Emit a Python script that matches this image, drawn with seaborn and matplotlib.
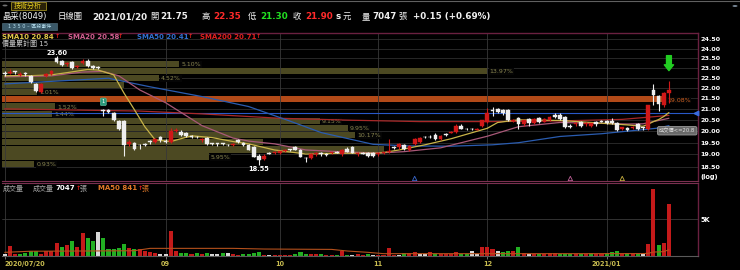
import numpy as np
import pandas as pd
import matplotlib
matplotlib.use("Agg")
import matplotlib.pyplot as plt
import seaborn as sns
from matplotlib.ticker import NullLocator
from matplotlib.patches import Rectangle, Circle
from matplotlib.lines import Line2D

# ---------------- data ----------------
opens = [22.70, 22.75, 22.80, 22.65, 22.70, 22.60, 22.20, 21.80, 22.60, 22.70,
         23.50, 23.35, 23.20, 23.30, 23.05, 23.25, 23.35, 23.10, 23.05, 20.95,
         20.95, 20.80, 20.45, 20.45, 19.45, 19.50, 19.40, 19.45, 19.55, 19.55,
         19.75, 19.55, 19.55, 20.00, 19.95, 19.90, 19.80, 19.75, 19.60, 19.70,
         19.45, 19.45, 19.45, 19.40, 19.40, 19.60, 19.50, 19.40, 19.30, 18.95,
         18.80, 19.05, 19.05, 19.05, 19.15, 19.20, 19.30, 19.20, 18.85, 18.85,
         19.00, 19.05, 19.00, 19.05, 19.10, 19.00, 19.25, 19.30, 19.00, 19.05,
         19.05, 19.05, 19.00, 19.05, 19.10, 19.30, 19.30, 19.40, 19.20, 19.45,
         19.55, 19.75, 19.75, 19.85, 19.65, 19.85, 19.90, 19.95, 20.25, 20.10,
         20.10, 20.05, 20.25, 20.40, 20.95, 21.00, 20.95, 20.95, 20.45, 20.60,
         20.30, 20.55, 20.35, 20.60, 20.40, 20.50, 20.75, 20.75, 20.65, 20.25,
         20.30, 20.40, 20.30, 20.25, 20.40, 20.45, 20.45, 20.45, 20.35, 20.10,
         20.15, 20.15, 20.30, 20.15, 20.10, 21.90, 21.60, 21.20, 21.75]
highs = [22.85, 22.95, 22.85, 22.80, 22.80, 22.65, 22.25, 22.25, 22.75, 22.90,
         23.60, 23.40, 23.30, 23.35, 23.15, 23.45, 23.45, 23.15, 23.10, 21.00,
         21.00, 20.85, 20.50, 20.50, 19.60, 19.55, 19.45, 19.50, 19.60, 19.70,
         19.80, 19.65, 20.15, 20.15, 20.05, 19.95, 19.85, 19.80, 19.70, 19.75,
         19.50, 19.50, 19.50, 19.45, 19.50, 19.65, 19.55, 19.45, 19.35, 19.00,
         19.00, 19.10, 19.15, 19.15, 19.25, 19.25, 19.35, 19.25, 18.90, 19.05,
         19.10, 19.10, 19.05, 19.10, 19.15, 19.25, 19.30, 19.35, 19.10, 19.10,
         19.10, 19.10, 19.10, 19.10, 19.65, 19.35, 19.50, 19.45, 19.40, 19.70,
         19.75, 19.80, 19.85, 19.90, 19.85, 19.90, 20.00, 20.30, 20.30, 20.15,
         20.15, 20.15, 20.50, 21.05, 21.10, 21.05, 21.00, 21.00, 20.55, 20.65,
         20.50, 20.60, 20.60, 20.65, 20.60, 20.70, 20.80, 20.80, 20.70, 20.30,
         20.40, 20.45, 20.40, 20.35, 20.45, 20.50, 20.50, 20.60, 20.40, 20.20,
         20.20, 20.25, 20.35, 20.20, 21.20, 22.20, 21.65, 21.80, 22.35]
lows = [22.60, 22.70, 22.70, 22.60, 22.60, 22.25, 21.80, 21.75, 22.55, 22.65,
        23.25, 23.10, 23.10, 22.95, 23.00, 23.20, 23.05, 22.95, 22.95, 20.70,
        20.80, 20.45, 20.05, 18.95, 19.35, 19.20, 19.25, 19.35, 19.45, 19.50,
        19.55, 19.50, 19.50, 19.95, 19.80, 19.75, 19.70, 19.70, 19.55, 19.40,
        19.40, 19.35, 19.40, 19.35, 19.35, 19.50, 19.35, 19.20, 18.90, 18.55,
        18.75, 19.00, 19.00, 19.00, 19.10, 19.15, 19.20, 18.90, 18.70, 18.80,
        18.95, 18.95, 18.95, 19.00, 19.05, 18.95, 19.10, 19.05, 18.95, 19.00,
        18.90, 18.90, 18.95, 19.00, 19.05, 19.25, 19.25, 19.20, 19.15, 19.40,
        19.50, 19.70, 19.70, 19.60, 19.60, 19.80, 19.90, 19.90, 20.10, 20.05,
        20.05, 20.05, 20.20, 20.35, 20.70, 20.80, 20.75, 20.45, 20.40, 20.10,
        20.25, 20.25, 20.30, 20.35, 20.40, 20.45, 20.60, 20.50, 20.15, 20.15,
        20.25, 20.20, 20.25, 20.20, 20.25, 20.40, 20.30, 20.30, 20.00, 20.05,
        20.00, 20.10, 20.05, 20.05, 20.05, 21.20, 20.90, 21.10, 21.30]
closes = [22.70, 22.80, 22.80, 22.70, 22.70, 22.30, 21.85, 22.20, 22.70, 22.85,
          23.30, 23.15, 23.25, 23.00, 23.10, 23.35, 23.10, 23.00, 23.00, 20.90,
          20.85, 20.50, 20.10, 19.40, 19.55, 19.25, 19.40, 19.40, 19.55, 19.65,
          19.60, 19.55, 20.00, 20.05, 19.85, 19.80, 19.75, 19.75, 19.65, 19.45,
          19.45, 19.45, 19.45, 19.40, 19.45, 19.55, 19.40, 19.20, 18.90, 18.75,
          18.95, 19.05, 19.10, 19.15, 19.20, 19.20, 19.20, 18.90, 18.85, 19.00,
          19.05, 19.00, 19.00, 19.10, 19.10, 19.20, 19.10, 19.05, 19.05, 19.05,
          18.95, 18.95, 19.05, 19.10, 19.15, 19.30, 19.45, 19.25, 19.35, 19.65,
          19.70, 19.75, 19.75, 19.65, 19.80, 19.85, 19.95, 20.25, 20.10, 20.10,
          20.10, 20.10, 20.50, 20.80, 20.95, 20.85, 20.80, 20.50, 20.50, 20.30,
          20.50, 20.35, 20.55, 20.40, 20.55, 20.65, 20.65, 20.55, 20.20, 20.20,
          20.35, 20.25, 20.35, 20.35, 20.30, 20.45, 20.35, 20.35, 20.05, 20.20,
          20.05, 20.20, 20.10, 20.15, 21.20, 21.65, 21.25, 21.75, 21.90]
volumes = [270, 1360, 270, 270, 450, 680, 680, 270, 680, 680,
           1820, 1230, 1450, 2000, 1270, 3090, 2400, 2040, 3220, 2400,
           950, 950, 1090, 1630, 1040, 950, 950, 680, 590, 450,
           270, 270, 3450, 680, 410, 410, 270, 410, 270, 360,
           270, 230, 360, 410, 230, 140, 230, 270, 410, 500,
           140, 140, 140, 140, 140, 140, 270, 500, 270, 270,
           230, 230, 140, 140, 140, 730, 140, 140, 230, 140,
           270, 140, 140, 140, 1040, 140, 140, 450, 410, 590,
           320, 320, 590, 270, 230, 230, 230, 500, 320, 320,
           640, 320, 1270, 1270, 950, 680, 500, 680, 680, 1230,
           360, 320, 270, 320, 270, 360, 360, 320, 320, 320,
           230, 320, 230, 360, 270, 270, 360, 500, 640, 270,
           360, 270, 320, 320, 1590, 9130, 1450, 1730, 7047]
# r = up, g = down, w = unchanged (colour of each volume bar)
vol_colors = list("wrrggggrrr" "rgrgrrggwg" "ggggrgrrrr" "wwrrggrgrg" "wwgwrrgggg"
                  "rwrrrrgggr" "rgrrgrgwrr" "gwrrrrwgrr" "wwrgrrrrgg" "wwrrrwggrg"
                  "rwrgrrrggg" "rgrgrrgggr" "grgwrrgrr")

sma10_days = [0, 9, 12, 16, 18, 21, 23, 25, 27, 29, 32, 36, 40, 44, 47, 52, 58, 65,
              72, 76, 81, 86, 93, 95, 99, 107, 113, 120, 123, 124, 125, 126, 127, 128]
sma10_vals = [22.60, 22.65, 22.76, 22.92, 22.89, 22.65, 21.75, 20.97, 20.20, 19.62,
              19.55, 19.80, 19.72, 19.55, 19.45, 19.19, 19.02, 19.05, 19.05, 19.19,
              19.41, 19.67, 20.13, 20.39, 20.51, 20.48, 20.39, 20.28, 20.22, 20.31,
              20.43, 20.52, 20.66, 20.84]
sma20_days = [0, 9, 15, 19, 22, 26, 31, 38, 44, 47, 52, 58, 65, 72, 77, 84, 93, 99,
              107, 115, 120, 123, 128]
sma20_vals = [22.55, 22.60, 22.79, 22.82, 22.60, 21.91, 21.30, 20.25, 19.70, 19.57,
              19.45, 19.19, 19.11, 19.06, 19.12, 19.28, 19.78, 20.20, 20.39, 20.35,
              20.32, 20.33, 20.58]
sma50_days = [0, 20, 28, 38, 47, 55, 61, 71, 78, 86, 94, 99, 107, 115, 126, 128]
sma50_vals = [22.20, 22.48, 22.06, 21.59, 21.12, 20.45, 19.94, 19.43, 19.36, 19.35,
              19.41, 19.50, 19.77, 19.89, 20.14, 20.25]
sma50_last = 20.41
sma200_days = [0, 18, 26, 38, 53, 67, 80, 94, 107, 119, 128]
sma200_vals = [21.01, 20.94, 20.91, 20.78, 20.58, 20.49, 20.43, 20.43, 20.46, 20.53, 20.71]
volma_days = [0, 5, 15, 25, 28, 44, 50, 63, 66, 70, 73, 90, 110, 123, 124, 125, 126, 127, 128]
volma_vals = [500, 650, 680, 720, 1040, 1040, 950, 900, 680, 500, 320, 320, 320, 330,
              360, 540, 560, 600, 841]

# volume-at-price profile (15 bands, top to bottom)
profile_range = [18.47, 23.40]
profile_pcts = [5.10, 13.97, 4.52, 3.50, 1.01, 19.08, 1.52, 1.44, 9.15, 9.95,
                10.17, 7.50, 11.00, 5.95, 0.93]
profile_labeled = [1, 1, 1, 0, 1, 1, 1, 1, 1, 1, 1, 0, 0, 1, 1]

alert_price = 20.80
tick_days = [0, 31, 53, 72, 93, 116]
tick_labels = ["2020/07/20", "09", "10", "11", "12", "2021/01"]
price_ticks = [18.5, 19.0, 19.5, 20.0, 20.5, 21.0, 21.5, 22.0, 22.5, 23.0, 23.5, 24.0, 24.5]
event_days = [79, 109, 119]
event_colors = ["#3a6ad0", "#c06098", "#c8b040"]

# ---------------- style ----------------
sns.set_theme(style="dark", rc={"axes.facecolor": "black", "figure.facecolor": "black"})
plt.rcParams["font.family"] = ["DejaVu Sans", "Noto Sans CJK TC"]

W, H = 740, 270
fig = plt.figure(figsize=(7.4, 2.7), dpi=100, facecolor="black")
ax = fig.add_axes([2 / W, 89 / H, 696 / W, 148 / H])
axv = fig.add_axes([2 / W, 14 / H, 696 / W, 73 / H])
XMIN, XMAX = -0.52, 133.6

df = pd.DataFrame(dict(day=np.arange(len(closes)), open=opens, high=highs, low=lows,
                       close=closes, volume=volumes, vcol=vol_colors))

RED, WHITE, GREEN = "#d01818", "#eeeeee", "#22b022"

# ---- price panel ----
ax.set_facecolor("black")
ax.set_yscale("log")
for t in price_ticks:
    ax.axhline(t, color="#2e2e2e", lw=0.6, zorder=0.5)

edges = np.geomspace(profile_range[1], profile_range[0], len(profile_pcts) + 1)
span = 127.72
pmax = max(profile_pcts)
for i, pct in enumerate(profile_pcts):
    hi, lo = edges[i], edges[i + 1]
    lo2, hi2 = lo * 1.0011, hi / 1.0011
    L = pct / pmax * span
    is_max = pct == pmax
    ax.barh(lo2, L, height=hi2 - lo2, left=XMIN, align="edge",
            color="#b24a18" if is_max else "#4c4922", zorder=1, linewidth=0)
    if profile_labeled[i]:
        ax.text(XMIN + L + 0.4, np.sqrt(lo * hi) / 1.0015, f"{pct:.2f}%",
                fontsize=4.5, color="#d06020" if is_max else "#8a8650",
                va="center", ha="left", zorder=2,
                bbox=dict(fc="#050505", ec="none", pad=0.6))

for d in tick_days:
    ax.axvline(d, color="#383838", lw=0.6, zorder=1.5)
    axv.axvline(d, color="#383838", lw=0.6, zorder=0.5)

ax.axhline(alert_price, color="#2858c8", lw=0.8, zorder=2.5)
ax.plot([XMAX - 0.3], [alert_price], marker="<", color="#3a6ae0", ms=3.2,
        clip_on=False, zorder=6)

for dd, vv, c in [(sma200_days, sma200_vals, "#a82828"),
                  (sma50_days, sma50_vals, "#2a5cb0"),
                  (sma20_days, sma20_vals, "#a85878"),
                  (sma10_days, sma10_vals, "#c8b448")]:
    sns.lineplot(x=dd, y=vv, ax=ax, color=c, linewidth=0.9, zorder=3, legend=False)

up = df.close > df.open
ccol = np.where(up, RED, WHITE)
ax.vlines(df.day, df.low, df.high, colors=ccol, lw=0.8, zorder=4)
diff = (df.close - df.open).abs()
mid = (df.close + df.open) / 2
bh = np.maximum(diff, 0.035)
bottom = np.where(diff < 0.035, mid - 0.0175, np.minimum(df.open, df.close))
ax.bar(df.day, bh, bottom=bottom, width=0.72, color=ccol, edgecolor=ccol,
       linewidth=0.3, zorder=5)

ax.scatter(event_days, [18.02] * len(event_days), marker="^", facecolors="none",
           edgecolors=event_colors, s=10, linewidths=0.6, zorder=6)

ihi = int(np.argmax(highs)); ilo = int(np.argmin(lows))
ax.text(ihi, 23.76, f"{highs[ihi]:.2f}", color="white", fontsize=4.8,
        fontweight="bold", ha="center", va="center", zorder=7)
ax.text(ilo, 18.40, f"{lows[ilo]:.2f}", color="white", fontsize=4.8,
        fontweight="bold", ha="center", va="center", zorder=7)
ax.text(19, 21.34, "1", color="white", fontsize=3.8, ha="center", va="center",
        zorder=7, bbox=dict(boxstyle="round,pad=0.25", fc="#2a9a7a", ec="#60c0a0", lw=0.4))
ax.annotate("", xy=(128, 22.86), xytext=(128, 23.63),
            arrowprops=dict(arrowstyle="simple,head_length=0.6,head_width=0.95,tail_width=0.5",
                            color="#22cc22", mutation_scale=7, shrinkA=0, shrinkB=0),
            zorder=7)
# alert callout at the right edge of the price panel
ax.text(126.1, 20.02, "成交價<=20.8", fontsize=3.8, color="#e0e0e0", zorder=10,
        ha="left", va="center", clip_on=True,
        bbox=dict(boxstyle="round,pad=0.3", fc="#6a6a6a", ec="#9a9a9a", lw=0.6))

ax.set_xlim(XMIN, XMAX)
ax.set_ylim(17.92, 24.84)
ax.yaxis.set_ticks_position("right")
ax.set_yticks(price_ticks, labels=[f"{t:.2f}" for t in price_ticks],
              fontsize=4.6, fontweight="bold", color="white")
ax.yaxis.set_minor_locator(NullLocator())
ax.tick_params(axis="y", which="both", length=0, pad=1.5)
ax.tick_params(axis="x", bottom=False, labelbottom=False)
ax.set_xlabel(""); ax.set_ylabel("")
ax.grid(False)
for s in ["top", "right"]:
    ax.spines[s].set_color("#6a2040"); ax.spines[s].set_linewidth(1.0); ax.spines[s].set_visible(True)
ax.spines["bottom"].set_color("#7a3050"); ax.spines["bottom"].set_linewidth(0.8)
ax.spines["left"].set_visible(False)

# ---- volume panel ----
axv.set_facecolor("black")
axv.axhline(5000, color="#3a3a3a", lw=0.6, zorder=0.5)
cmap = {"r": "#c41a1a", "g": GREEN, "w": "#d8d8d8"}
axv.bar(df.day, df.volume, width=0.78, color=[cmap[c] for c in df.vcol], linewidth=0, zorder=2)
sns.lineplot(x=volma_days, y=volma_vals, ax=axv, color="#b4501c", linewidth=0.8,
             zorder=3, legend=False)
axv.set_xlim(XMIN, XMAX)
axv.set_ylim(0, 9946)
axv.yaxis.set_ticks_position("right")
axv.set_yticks([5000], labels=["5K"], fontsize=4.8, fontweight="bold", color="white")
axv.yaxis.set_minor_locator(NullLocator())
axv.tick_params(axis="y", length=0, pad=1.5)
axv.set_xticks(tick_days, labels=tick_labels, fontsize=4.7, fontweight="bold", color="#c8bc50")
axv.get_xticklabels()[0].set_ha("left")
axv.tick_params(axis="x", length=2, width=0.6, color="#808080", pad=1.5, bottom=True)
axv.set_xlabel(""); axv.set_ylabel("")
axv.grid(False)
axv.spines["top"].set_color("#7a3050"); axv.spines["top"].set_linewidth(0.8)
axv.spines["right"].set_color("#6a2040"); axv.spines["right"].set_linewidth(1.0)
axv.spines["bottom"].set_color("#5a5a5a"); axv.spines["bottom"].set_linewidth(0.8)
axv.spines["left"].set_visible(False)
for s in ["top", "right", "bottom"]:
    axv.spines[s].set_visible(True)

# ---------------- header / texts ----------------
def T(x, y, s, **kw):
    kw.setdefault("va", "center"); kw.setdefault("ha", "left")
    return fig.text(x / W, 1 - y / H, s, **kw)

fig.add_artist(Line2D([0, 1], [1 - 1 / H, 1 - 1 / H], transform=fig.transFigure,
                      color="#606060", lw=0.8))
fig.add_artist(Circle((5 / W, 1 - 5.5 / H), 2.5 / W, transform=fig.transFigure,
                      fc="#707070", ec="none"))
fig.add_artist(Rectangle((11 / W, 1 - 10 / H), 35 / W, 8.5 / H, transform=fig.transFigure,
                         fc="#2a2208", ec="#9a8a20", lw=0.6))
T(14, 5.8, "技術分析", fontsize=5, color="#e8d020")
fig.add_artist(Circle((735 / W, 1 - 6 / H), 2.5 / W, transform=fig.transFigure,
                      fc="#8090a0", ec="none"))

WH = "#f0f0f0"
T(2, 16.7, "晶采(8049)", fontsize=6, color=WH)
T(58, 16.7, "日線圖", fontsize=6, color=WH)
T(92, 16.7, "2021/01/20", fontsize=6.3, color=WH, fontweight="bold")
T(150, 16.7, "開", fontsize=6, color=WH)
T(160, 16.7, f"{opens[-1]:.2f}", fontsize=6.3, color=WH, fontweight="bold")
T(202, 16.7, "高", fontsize=6, color=WH)
T(213, 16.7, f"{highs[-1]:.2f}", fontsize=6.3, color="#ff2a2a", fontweight="bold")
T(248, 16.7, "低", fontsize=6, color=WH)
T(260, 16.7, f"{lows[-1]:.2f}", fontsize=6.3, color="#22e022", fontweight="bold")
T(293, 16.7, "收", fontsize=6, color=WH)
T(305, 16.7, f"{closes[-1]:.2f}", fontsize=6.3, color="#ff2a2a", fontweight="bold")
T(336, 16.7, "s", fontsize=6.3, color=WH, fontweight="bold")
T(343, 16.7, "元", fontsize=6, color=WH)
T(362, 16.7, "量", fontsize=6, color=WH)
T(372, 16.7, f"{volumes[-1]}", fontsize=6.3, color=WH, fontweight="bold")
T(398, 16.7, "張", fontsize=6, color=WH)
chg = closes[-1] - closes[-2]
T(413, 16.7, f"+{chg:.2f} (+{chg / closes[-2] * 100:.2f}%)", fontsize=6.3, color=WH,
  fontweight="bold")

fig.add_artist(Rectangle((2 / W, 1 - 29.5 / H), 55 / W, 6.5 / H, transform=fig.transFigure,
                         fc="#3a5868", ec="#5a7888", lw=0.4))
T(29.5, 26.3, "1 3 5 0 – 區段事件", fontsize=3.6, color="#b8e0f0", ha="center")

T(2, 37, f"SMA10 {sma10_vals[-1]:.2f}", fontsize=5, color="#e0c448", fontweight="bold")
T(54.5, 37, "↑", fontsize=4.5, color="#e02020", fontweight="bold")
T(68, 37, f"SMA20 {sma20_vals[-1]:.2f}", fontsize=5, color="#d06090", fontweight="bold")
T(118, 37, "↑", fontsize=4.5, color="#e02020", fontweight="bold")
T(137, 37, f"SMA50 {sma50_last:.2f}", fontsize=5, color="#3070d0", fontweight="bold")
T(187.5, 37, "↑", fontsize=4.5, color="#e02020", fontweight="bold")
T(200, 37, f"SMA200 {sma200_vals[-1]:.2f}", fontsize=5, color="#e02020", fontweight="bold")
T(256, 37, "↑", fontsize=4.5, color="#e02020", fontweight="bold")
T(2.5, 43, "價量累計圖 15", fontsize=5, color="#c8c8c8")

T(700, 177, "(log)", fontsize=4.8, color="white", fontweight="bold")

T(2.5, 188, "成交量", fontsize=5, color="#a8a8a8")
T(33, 188, "成交量", fontsize=5, color="#a8a8a8")
T(55, 188, f"{volumes[-1]}", fontsize=5, color="white", fontweight="bold")
T(76, 188, "↑", fontsize=4.5, color="#e02020", fontweight="bold")
T(80, 188, "張", fontsize=5, color="#a8a8a8")
T(98, 188, f"MA50 {volma_vals[-1]}", fontsize=5, color="#e07828", fontweight="bold")
T(137.5, 188, "↑", fontsize=4.5, color="#e02020", fontweight="bold")
T(142, 188, "張", fontsize=5, color="#e07828")

fig.savefig("out.png", dpi=100, facecolor="black")
